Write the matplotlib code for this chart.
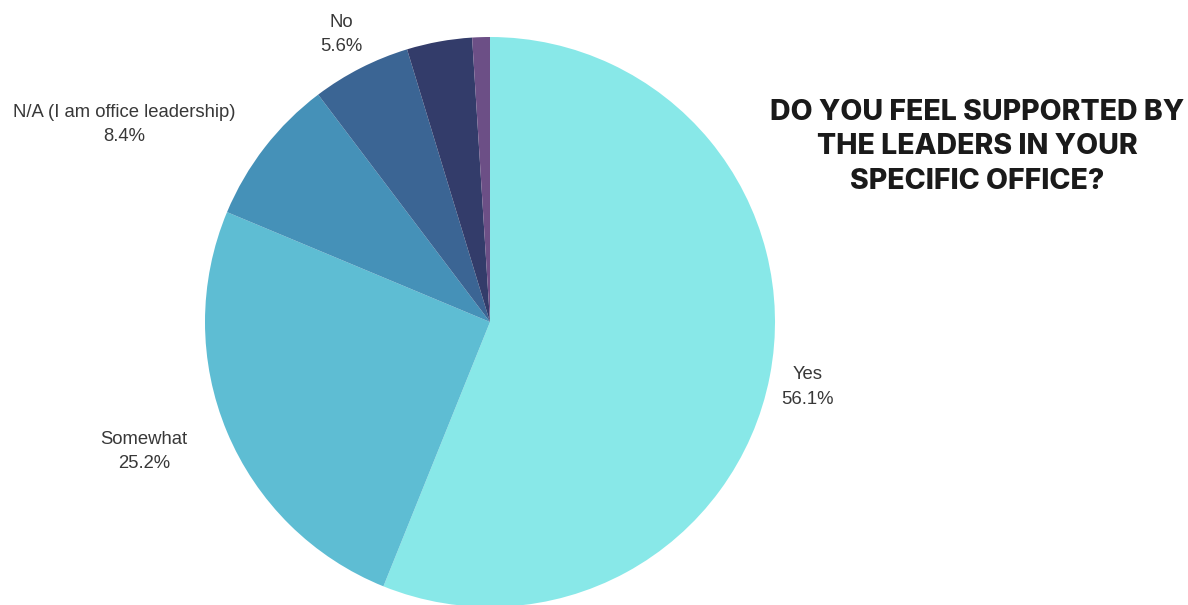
import numpy as np
import matplotlib.pyplot as plt

answers = ["Yes", "Somewhat", "N/A (I am office leadership)", "No", "Not sure", "Other"]
shares = [56.1, 25.2, 8.4, 5.6, 3.7, 1.0]
show_label = [True, True, True, True, False, False]
colors = ["#88e8e8", "#5ebdd3", "#4591b8", "#3b6594", "#333c6a", "#6c4f86"]

title = "DO YOU FEEL SUPPORTED BY\nTHE LEADERS IN YOUR\nSPECIFIC OFFICE?"

fig = plt.figure(figsize=(11.88, 6.05), dpi=100)
W, H = 1188, 605
cx, cy, r = 490, 322, 285
ax = fig.add_axes([(cx - r) / W, (H - cy - r) / H, 2 * r / W, 2 * r / H])

wedges, _ = ax.pie(shares, colors=colors, startangle=90, counterclock=False,
                   wedgeprops=dict(linewidth=0))
ax.set_xlim(-1, 1)
ax.set_ylim(-1, 1)
ax.set_aspect("equal")

# label anchor distance, alignment and small vertical nudge per wedge
label_dist = [1.04, 1.15, 1.13, 1.15]
label_ha = ["left", "right", "right", "center"]
label_dy = [-0.03, -0.01, 0.0, -0.015]

for i, w in enumerate(wedges):
    if not show_label[i]:
        continue
    mid = np.deg2rad((w.theta1 + w.theta2) / 2)
    d = label_dist[i]
    ax.text(d * np.cos(mid), d * np.sin(mid) + label_dy[i],
            f"{answers[i]}\n{shares[i]:.1f}%",
            ha=label_ha[i], va="center", multialignment="center",
            fontsize=13.3, color="#383838", family="Liberation Sans",
            linespacing=1.55, clip_on=False)

fig.text(977 / W, 1 - 147 / H, title, ha="center", va="center",
         fontsize=20.5, fontweight=800, family="Inter", color="#1a1a1a",
         linespacing=1.38)

fig.savefig("out.png", dpi=100)
